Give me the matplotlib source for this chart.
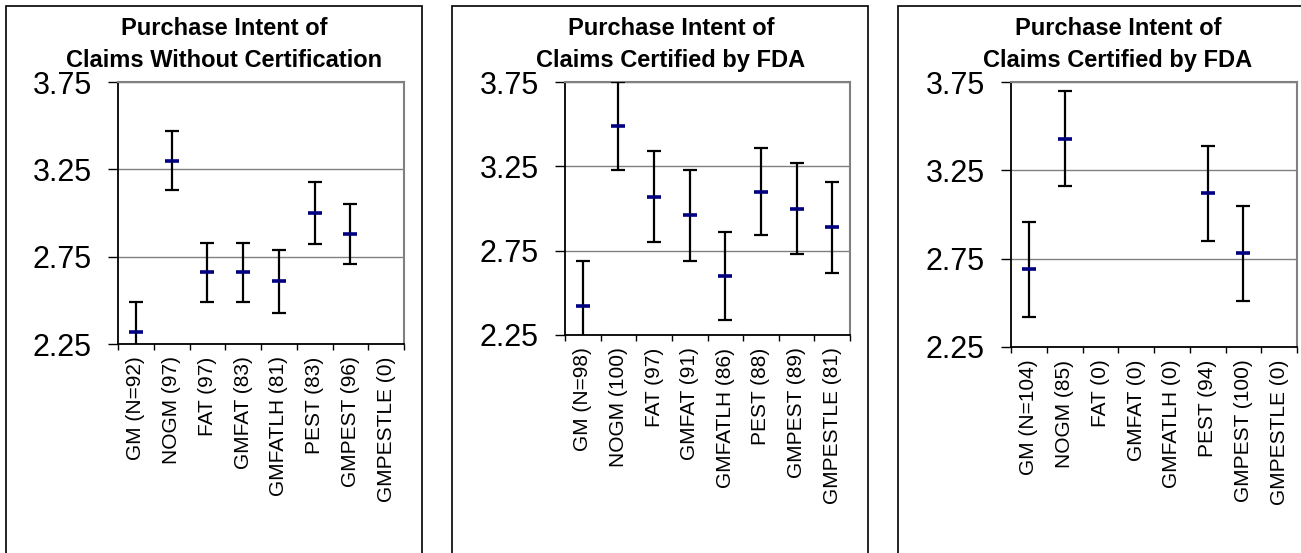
#!/usr/bin/env python3
from __future__ import annotations

import numpy as np
import matplotlib
matplotlib.use("Agg")
import matplotlib.pyplot as plt
from matplotlib.patches import Rectangle


W, H = 1301, 553
DPI = 100

TITLE_TOP = "Purchase Intent of"
TITLES = [
    "Claims Without Certification",
    "Claims Certified by FDA",
    "Claims Certified by FDA",
]

LABELS_1 = ["GM (N=92)", "NOGM (97)", "FAT (97)", "GMFAT (83)",
            "GMFATLH (81)", "PEST (83)", "GMPEST (96)", "GMPESTLE (0)"]
LABELS_2 = ["GM (N=98)", "NOGM (100)", "FAT (97)", "GMFAT (91)",
            "GMFATLH (86)", "PEST (88)", "GMPEST (89)", "GMPESTLE (81)"]
LABELS_3 = ["GM (N=104)", "NOGM (85)", "FAT (0)", "GMFAT (0)",
            "GMFATLH (0)", "PEST (94)", "GMPEST (100)", "GMPESTLE (0)"]

MEANS_1 = [2.32, 3.30, 2.66, 2.66, 2.61, 3.00, 2.88, np.nan]
ERR_1 = [0.17, 0.17, 0.17, 0.17, 0.18, 0.18, 0.17, np.nan]

MEANS_2 = [2.42, 3.49, 3.07, 2.96, 2.60, 3.10, 3.00, 2.89]
ERR_2 = [0.27, 0.26, 0.27, 0.27, 0.26, 0.26, 0.27, 0.27]

MEANS_3 = [2.69, 3.43, np.nan, np.nan, np.nan, 3.12, 2.78, np.nan]
ERR_3 = [0.27, 0.27, np.nan, np.nan, np.nan, 0.27, 0.27, np.nan]

Y_TICKS = [2.25, 2.75, 3.25, 3.75]

# layout in pixels: (axes left, right, top, bottom), outer box (left, right), title centre
PANELS = [
    ((118, 404, 82, 344), (6, 422), 224.5),
    ((565, 850, 82, 335), (452, 868), 671),
    ((1011, 1297, 82, 347), (898, 1310), 1118),
]

plt.rcParams["font.family"] = ["Liberation Sans", "DejaVu Sans"]


def px_box(left, right, top, bottom):
    return [left / W, (H - bottom) / H, (right - left) / W, (bottom - top) / H]


def draw_panel(fig, layout, labels, means, err, title):
    (al, ar, at, ab), (bl, br), tx = layout

    fig.patches.append(Rectangle((bl / W, -0.05), (br - bl) / W, (H - 6) / H + 0.05,
                                 transform=fig.transFigure, fill=False,
                                 edgecolor="black", linewidth=1.2))
    fig.text(tx / W, (H - 35) / H, TITLE_TOP, ha="center", va="baseline",
             fontsize=17, fontweight="bold")
    fig.text(tx / W, (H - 67) / H, title, ha="center", va="baseline",
             fontsize=17, fontweight="bold")

    ax = fig.add_axes(px_box(al, ar, at, ab))
    x = np.arange(len(labels))
    ax.errorbar(x, means, yerr=err, fmt="none", ecolor="black",
                elinewidth=1.6, capsize=5, capthick=1.6, zorder=3)
    ax.plot(x, means, linestyle="none", marker="_", markersize=10,
            markeredgewidth=2.6, color="#000080", zorder=4)

    ax.set_xlim(-0.5, len(labels) - 0.5)
    ax.set_ylim(2.25, 3.75)
    ax.set_yticks(Y_TICKS)
    ax.set_yticklabels([f"{v:.2f}" for v in Y_TICKS], fontsize=22)
    ax.tick_params(axis="y", length=7, width=1, pad=12, direction="out")

    ax.set_xticks(x)
    ax.set_xticklabels(labels, rotation=90, fontsize=15)
    ax.tick_params(axis="x", which="major", length=0, pad=9)
    ax.set_xticks(np.arange(len(labels) + 1) - 0.5, minor=True)
    ax.tick_params(axis="x", which="minor", length=4.5, width=1, direction="out")

    ax.yaxis.grid(True, color="#808080", linewidth=1)
    ax.set_axisbelow(True)
    for side in ("left", "bottom"):
        ax.spines[side].set_color("black")
        ax.spines[side].set_linewidth(1.3)
    for side in ("top", "right"):
        ax.spines[side].set_color("#808080")
        ax.spines[side].set_linewidth(1.5)
    return ax


def main() -> int:
    fig = plt.figure(figsize=(W / DPI, H / DPI), dpi=DPI)
    data = [
        (LABELS_1, MEANS_1, ERR_1),
        (LABELS_2, MEANS_2, ERR_2),
        (LABELS_3, MEANS_3, ERR_3),
    ]
    for layout, (labels, means, err), title in zip(PANELS, data, TITLES):
        draw_panel(fig, layout, labels, means, err, title)

    fig.savefig("out.png", dpi=DPI)
    plt.close(fig)
    return 0


if __name__ == "__main__":
    raise SystemExit(main())
